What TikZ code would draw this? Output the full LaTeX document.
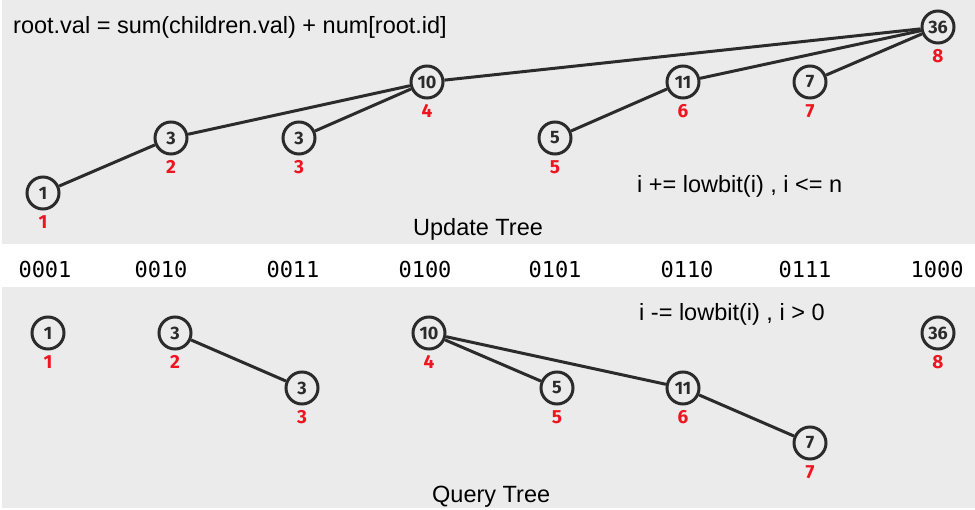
\documentclass[tikz,border=0pt]{standalone}
\usepackage{fontspec}
\setmainfont{Liberation Sans}
\newfontfamily\monof{DejaVu Sans Mono}
\newfontfamily\numf{Fira Sans}
\definecolor{bg}{HTML}{EBEBEB}
\definecolor{ink}{HTML}{2B2B2B}
\definecolor{idred}{HTML}{EE1420}
\begin{document}
\begin{tikzpicture}[x=1pt,y=-1pt,
  tnode/.style={circle,draw=ink,line width=3pt,fill=bg,minimum size=32pt,inner sep=0pt,
    font=\numf\bfseries\fontsize{18}{18}\selectfont,text=ink},
  idlab/.style={font=\numf\bfseries\fontsize{19}{19}\selectfont,text=idred,inner sep=0pt},
  edge/.style={draw=ink,line width=3pt},
  bin/.style={font=\monof\fontsize{22}{22}\selectfont,anchor=base,inner sep=0pt},
  txt/.style={font=\fontsize{23.5}{23.5}\selectfont,anchor=base west,inner sep=0pt}]
\useasboundingbox (0,0) rectangle (975,510);
\fill[white] (0,0) rectangle (975,510);
\fill[bg] (2,0) rectangle (975,244);
\fill[bg] (2,287) rectangle (975,508);

% top panel
\node[txt] (t1) at (13,34) {root.val = sum(children.val) + num[root.id]};
\node[txt] (t2) at (637,193) {i += lowbit(i) , i <= n};
\node[txt] (t3) at (413,236) {Update Tree};

\node[tnode] (u1) at (43,193) {1};
\node[tnode] (u2) at (171,138) {3};
\node[tnode] (u3) at (299,138) {3};
\node[tnode] (u4) at (427,82) {10};
\node[tnode] (u5) at (555,138) {5};
\node[tnode] (u6) at (683,82) {11};
\node[tnode] (u7) at (810,82) {7};
\node[tnode] (u8) at (938,27) {36};
\foreach \i/\x/\y in {1/43/193,2/171/138,3/299/138,4/427/82,5/555/138,6/683/82,7/810/82,8/938/27}
  \node[idlab] (ul\i) at (\x,\y+29) {\i};
\draw[edge] (u1) -- (u2);
\draw[edge] (u2) -- (u4);
\draw[edge] (u3) -- (u4);
\draw[edge] (u4) -- (u8);
\draw[edge] (u5) -- (u6);
\draw[edge] (u6) -- (u8);
\draw[edge] (u7) -- (u8);

% binary labels
\foreach \s/\x [count=\k] in {0001/45,0010/161,0011/293,0100/425,0101/555,0110/687,0111/805,1000/937}
  \node[bin] (b\k) at (\x,278) {\s};

% bottom panel
\node[txt] (t4) at (639,321) {i -= lowbit(i) , i > 0};
\node[txt] (t5) at (432,503) {Query Tree};

\node[tnode] (q1) at (48,333) {1};
\node[tnode] (q2) at (175,333) {3};
\node[tnode] (q3) at (302,388) {3};
\node[tnode] (q4) at (429,333) {10};
\node[tnode] (q5) at (557,388) {5};
\node[tnode] (q6) at (683,388) {11};
\node[tnode] (q7) at (810,443) {7};
\node[tnode] (q8) at (938,333) {36};
\foreach \i/\x/\y in {1/48/333,2/175/333,3/302/388,4/429/333,5/557/388,6/683/388,7/810/443,8/938/333}
  \node[idlab] (ql\i) at (\x,\y+29) {\i};
\draw[edge] (q2) -- (q3);
\draw[edge] (q4) -- (q5);
\draw[edge] (q4) -- (q6);
\draw[edge] (q6) -- (q7);
\end{tikzpicture}
\end{document}
